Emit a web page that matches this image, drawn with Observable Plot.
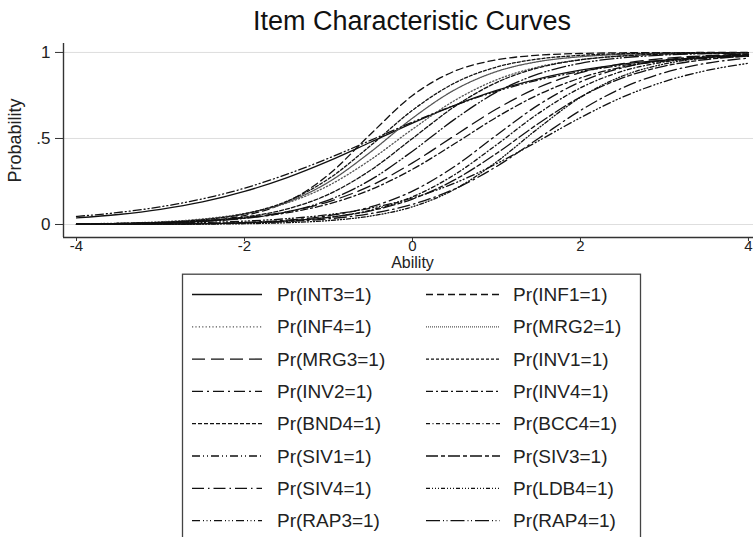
<!DOCTYPE html>
<html><head><meta charset="utf-8">
<script src="https://cdn.jsdelivr.net/npm/d3@7"></script>
<script src="https://cdn.jsdelivr.net/npm/@observablehq/plot@0.6"></script>
<style>
body{margin:0;background:#fff;font-family:"Liberation Sans",Arial,sans-serif;}
#wrap{position:relative;width:754px;height:537px;overflow:hidden;background:#fff;}
#title{height:40px;width:824px;text-align:center;font-size:27px;line-height:42px;color:#111;}
#plot svg,#legend svg{display:block;}
</style></head><body>
<div id="wrap"><div id="title">Item Characteristic Curves</div><div id="plot"></div><div id="legend"></div></div>
<script>
// Ability grid (x values)
const ability = [-4,-3.5,-3,-2.5,-2,-1.5,-1,-0.5,0,0.5,1,1.5,2,2.5,3,3.5,4];
// Item names in legend order
const items = ["INT3","INF1","INF4","MRG2","MRG3","INV1","INV2","INV4","BND4","BCC4","SIV1","SIV3","SIV4","LDB4","RAP3","RAP4"];
// Probabilities at each ability value
const pINT3 = [.038,.058,.088,.131,.192,.271,.368,.478,.589,.692,.779,.847,.897,.932,.955,.971,.981];
const pINF1 = [.0010,.0027,.0074,.0198,.0522,.130,.289,.525,.750,.891,.957,.984,.994,.998,.999,.9997,.9999];
const pINF4 = [.0037,.0077,.0158,.0321,.064,.124,.226,.376,.554,.720,.841,.916,.958,.979,.990,.995,.998];
const pMRG2 = [.0027,.0059,.0131,.0288,.0618,.128,.246,.421,.618,.782,.889,.947,.975,.989,.995,.998,.999];
const pMRG3 = [.0031,.0058,.0111,.0211,.0397,.0735,.132,.225,.358,.516,.671,.797,.882,.935,.965,.981,.990];
const pINV1 = [.0022,.0051,.0119,.0274,.0618,.134,.265,.458,.664,.822,.915,.962,.983,.993,.997,.999,.999];
const pINV2 = [.0006,.0013,.0027,.0056,.0118,.0248,.051,.102,.194,.337,.519,.695,.829,.911,.956,.979,.990];
const pINV4 = [.0032,.0059,.0110,.0203,.0373,.0675,.119,.202,.321,.469,.623,.755,.852,.915,.953,.974,.986];
const pBND4 = [.0020,.0044,.0095,.0203,.0431,.089,.175,.315,.500,.685,.825,.911,.957,.980,.991,.996,.998];
const pBCC4 = [.0005,.0010,.0021,.0045,.0095,.0198,.0411,.0832,.161,.289,.463,.646,.794,.891,.945,.973,.987];
const pSIV1 = [.047,.070,.103,.149,.211,.291,.385,.489,.595,.692,.774,.840,.889,.925,.949,.966,.978];
const pSIV3 = [.0006,.0013,.0026,.0052,.0105,.0208,.0411,.0794,.148,.259,.413,.587,.741,.852,.921,.959,.979];
const pSIV4 = [.0006,.0012,.0023,.0045,.0088,.0171,.0331,.063,.117,.206,.337,.500,.663,.794,.883,.937,.967];
const pLDB4 = [.0002,.0004,.0009,.0021,.0047,.0103,.0228,.0493,.103,.204,.364,.560,.739,.863,.933,.969,.986];
const pRAP3 = [.0022,.0039,.0067,.0115,.0197,.0337,.0571,.0949,.154,.240,.353,.486,.621,.740,.831,.895,.937];
const pRAP4 = [.0018,.0039,.0082,.0171,.0356,.0724,.142,.259,.426,.611,.769,.875,.937,.969,.985,.993,.997];
// Tick values
const xTicks = [-4,-2,0,2,4];
const yTicks = [0,0.5,1];
const yTickLabels = ["0",".5","1"];

const series = [pINT3,pINF1,pINF4,pMRG2,pMRG3,pINV1,pINV2,pINV4,pBND4,pBCC4,pSIV1,pSIV3,pSIV4,pLDB4,pRAP3,pRAP4];
// Line styles (Stata-like patterns)
const dashes = ["none","7,4","1.2,2.2","1,1","13,6","3,2","11,4,2,4","7,3,2,3","4,2","4,2.5,1,2.5","8,3,1,3,1,3","12,3,4,3","12,4,1.5,4","4,2,1,2,1,2,1,2","8,3,1,2.5,1,2.5,1,3","14,3,1,2.5,1,3"];
const strokes = items.map(n => (n==="INF4"||n==="MRG2") ? "#555" : "#111");

const rows = [];
items.forEach((name,i)=>ability.forEach((a,j)=>rows.push({item:name, ability:a, p:series[i][j]})));

const lineMarks = items.map((name,i)=>Plot.line(rows.filter(r=>r.item===name),{
  x:"ability", y:"p", curve:"monotone-x", stroke:strokes[i], strokeWidth:1.3, strokeDasharray:dashes[i]
}));

const chart = Plot.plot({
  width:754, height:233, marginTop:3, marginLeft:63, marginRight:1, marginBottom:36,
  x:{domain:[-4.155,4.06]}, y:{domain:[-0.0756,1.052]},
  style:{fontFamily:"Liberation Sans, Arial, sans-serif", fontSize:"16px", color:"#222", background:"white", overflow:"visible"},
  marks:[
    Plot.gridY(yTicks,{stroke:"#dedede", strokeOpacity:1, strokeWidth:1}),
    ...lineMarks,
    Plot.ruleX([-4.155],{stroke:"#333", strokeWidth:1.4}),
    Plot.ruleY([-0.0756],{stroke:"#333", strokeWidth:1.4}),
    Plot.axisY(yTicks,{tickSize:8, tickPadding:5, tickFormat:d=>yTickLabels[yTicks.indexOf(d)], label:null, stroke:"#333", fontSize:17}),
    Plot.axisX(xTicks,{tickSize:4, tickPadding:-1, tickFormat:d=>d<0?"-"+Math.abs(d):String(d), label:null, stroke:"#333", fontSize:15}),
    Plot.text(["Ability"],{x:[0], frameAnchor:"bottom", dy:30, fontSize:16, fill:"#222"}),
    Plot.text(["Probability"],{frameAnchor:"left", dx:-48, rotate:-90, textAnchor:"middle", fontSize:18, fill:"#222"})
  ]
});
document.getElementById("plot").appendChild(chart);

// Legend (page y of this svg top = 273)
const lg = d3.create("svg").attr("width",754).attr("height",264);
lg.append("rect").attr("x",182.5).attr("y",1.2).attr("width",458).attr("height",300).attr("fill","none").attr("stroke","#444").attr("stroke-width",1.3);
items.forEach((name,i)=>{
  const col = i%2, row = Math.floor(i/2);
  const y = 21.5 + row*32.3;
  const x0 = col===0 ? 192 : 426, x1 = col===0 ? 262 : 500, tx = col===0 ? 277 : 513;
  lg.append("line").attr("x1",x0).attr("x2",x1).attr("y1",y).attr("y2",y)
    .attr("stroke",strokes[i]).attr("stroke-width",1.3).attr("stroke-dasharray",dashes[i]);
  lg.append("text").attr("x",tx).attr("y",y).attr("dy","0.35em").attr("font-size",19)
    .attr("font-family","Liberation Sans, Arial, sans-serif").attr("fill","#222").text(`Pr(${name}=1)`);
});
document.getElementById("legend").appendChild(lg.node());
</script>
</body></html>
